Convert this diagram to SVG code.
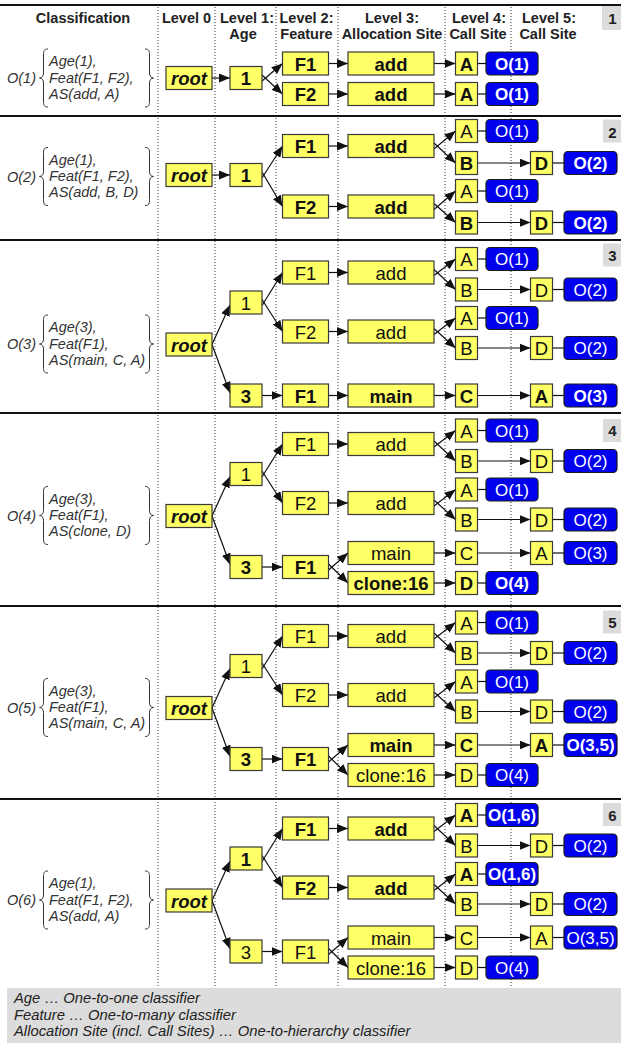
<svg xmlns="http://www.w3.org/2000/svg" width="621" height="1045" viewBox="0 0 621 1045">
<style>
.sep{stroke:#111;stroke-width:2}
.dot{stroke:#333;stroke-width:1;stroke-dasharray:1 2}
.n{fill:#ffff66;stroke:#3a3a3a;stroke-width:1.2}
.o{fill:#0000ee;stroke:#1a1a1a;stroke-width:1.2}
text{font-family:"Liberation Sans",Arial,sans-serif}
.t{font-size:18.5px;text-anchor:middle;fill:#111}
.ot{font-size:17px;text-anchor:middle;fill:#fff}
.b{font-weight:bold}
.i{font-style:italic}
.h{font-size:14.5px;font-weight:bold;text-anchor:middle;fill:#222}
.cl{font-size:14.5px;font-style:italic;fill:#333}
.ft{font-size:14.8px;font-style:italic;fill:#222}
.pn{font-size:15px;font-weight:bold;text-anchor:middle;fill:#222}
.pb{fill:#dcdcdc}
.c path{stroke:#111;stroke-width:1.2;fill:none}
.c .ar{marker-end:url(#ah)}
.br{fill:none;stroke:#333;stroke-width:1}
</style>
<defs>
<marker id="ah" viewBox="0 0 11 9" refX="11" refY="4.5" markerWidth="11" markerHeight="9" markerUnits="userSpaceOnUse" orient="auto"><path d="M0,0 L11,4.5 L0,9 z" fill="#111"/></marker>
<path id="lb" class="br" d="M48,-29 C44,-29 43.5,-27 43.5,-23 L43.5,-5 C43.5,-2 42,0 39.5,0 C42,0 43.5,2 43.5,5 L43.5,23 C43.5,27 44,29 48,29"/>
<path id="rb" class="br" d="M145,-29 C149,-29 149.5,-27 149.5,-23 L149.5,-5 C149.5,-2 151,0 153.5,0 C151,0 149.5,2 149.5,5 L149.5,23 C149.5,27 149,29 145,29"/>
</defs>
<rect width="621" height="1045" fill="#fff"/>

<g id="grid">
<line class="dot" x1="158" y1="7" x2="158" y2="988"/>
<line class="dot" x1="215" y1="7" x2="215" y2="988"/>
<line class="dot" x1="276" y1="7" x2="276" y2="988"/>
<line class="dot" x1="338" y1="7" x2="338" y2="988"/>
<line class="dot" x1="445" y1="7" x2="445" y2="988"/>
<line class="dot" x1="511" y1="7" x2="511" y2="988"/>
<line class="sep" x1="0" y1="5" x2="621" y2="5"/>
<line class="sep" x1="0" y1="116" x2="621" y2="116"/>
<line class="sep" x1="0" y1="240" x2="621" y2="240"/>
<line class="sep" x1="0" y1="413" x2="621" y2="413"/>
<line class="sep" x1="0" y1="606" x2="621" y2="606"/>
<line class="sep" x1="0" y1="799" x2="621" y2="799"/>
</g>

<g id="header">
<text class="h" x="83" y="22.5">Classification</text>
<text class="h" x="186.5" y="22.5">Level 0</text>
<text class="h" x="247" y="22.5">Level 1:</text>
<text class="h" x="306.5" y="22.5">Level 2:</text>
<text class="h" x="392" y="22.5">Level 3:</text>
<text class="h" x="479" y="22.5">Level 4:</text>
<text class="h" x="549" y="22.5">Level 5:</text>
<text class="h" x="243" y="38.5">Age</text>
<text class="h" x="306.5" y="38.5">Feature</text>
<text class="h" x="392" y="38.5">Allocation Site</text>
<text class="h" x="478" y="38.5">Call Site</text>
<text class="h" x="548" y="38.5">Call Site</text>
</g>

<g id="panel-numbers">
<rect class="pb" x="602" y="6" width="19" height="24"/><text class="pn" x="612.5" y="24">1</text>
<rect class="pb" x="603" y="119.5" width="18" height="23"/><text class="pn" x="612.5" y="137.5">2</text>
<rect class="pb" x="603" y="243.5" width="18" height="23"/><text class="pn" x="612.5" y="261">3</text>
<rect class="pb" x="603" y="419" width="18" height="23"/><text class="pn" x="612.5" y="436">4</text>
<rect class="pb" x="603" y="610.5" width="18" height="23"/><text class="pn" x="612.5" y="628">5</text>
<rect class="pb" x="603" y="803" width="18" height="23"/><text class="pn" x="612.5" y="821">6</text>
</g>

<!-- PANEL 1 -->
<g id="panel1">
<g id="p1-class"><use href="#lb" y="78"/><use href="#rb" y="78"/>
<text class="cl" x="7" y="83">O(1)</text><text class="cl" x="49" y="66">Age(1),</text><text class="cl" x="49" y="82.5">Feat(F1, F2),</text><text class="cl" x="49" y="98.5">AS(add, A)</text></g>
<g id="p1-connectors" class="c">
<path class="ar" d="M212,78 L230,78"/>
<path class="ar" d="M262,81 L282.5,63.5"/><path class="ar" d="M262,75 L282.5,94"/>
<path class="ar" d="M328.5,63.5 L348,63.5"/><path class="ar" d="M328.5,94 L348,94"/>
<path class="ar" d="M434,63.5 L455.5,63.5"/><path class="ar" d="M434,94 L455.5,94"/>
<path d="M477.5,63.5 L486,63.5"/><path d="M477.5,94 L486,94"/>
</g>
<g id="p1-root"><rect class="n" x="166" y="66.5" width="46" height="23"/><text class="t b i" x="189" y="85">root</text></g>
<g id="p1-age1"><rect class="n" x="230" y="66.5" width="32" height="23"/><text class="t b" x="246" y="85">1</text></g>
<g id="p1-f1"><rect class="n" x="282.5" y="52" width="46" height="23"/><text class="t b" x="305.5" y="70.5">F1</text></g>
<g id="p1-f2"><rect class="n" x="282.5" y="82.5" width="46" height="23"/><text class="t b" x="305.5" y="101">F2</text></g>
<g id="p1-add1"><rect class="n" x="348" y="52" width="86" height="23"/><text class="t b" x="391" y="70.5">add</text></g>
<g id="p1-add2"><rect class="n" x="348" y="82.5" width="86" height="23"/><text class="t b" x="391" y="101">add</text></g>
<g id="p1-a1"><rect class="n" x="455.5" y="52" width="22" height="23"/><text class="t b" x="466.5" y="70.5">A</text></g>
<g id="p1-a2"><rect class="n" x="455.5" y="82.5" width="22" height="23"/><text class="t b" x="466.5" y="101">A</text></g>
<g id="p1-o1a"><rect class="o" x="486" y="52" width="52" height="23" rx="4"/><text class="ot b" x="512" y="69.5">O(1)</text></g>
<g id="p1-o1b"><rect class="o" x="486" y="82.5" width="52" height="23" rx="4"/><text class="ot b" x="512" y="100">O(1)</text></g>
</g>

<!-- PANEL 2 -->
<g id="panel2">
<g id="p2-class"><use href="#lb" y="176.5"/><use href="#rb" y="176.5"/>
<text class="cl" x="7" y="181.5">O(2)</text><text class="cl" x="49" y="164.5">Age(1),</text><text class="cl" x="49" y="181">Feat(F1, F2),</text><text class="cl" x="49" y="197">AS(add, B, D)</text></g>
<g id="p2-connectors" class="c">
<path class="ar" d="M212,175 L230,175"/>
<path class="ar" d="M262,178 L282.5,146"/><path class="ar" d="M262,172 L282.5,206.5"/>
<path class="ar" d="M328.5,146 L348,146"/><path class="ar" d="M328.5,206.5 L348,206.5"/>
<path class="ar" d="M434,149 L455.5,131"/><path class="ar" d="M434,143 L455.5,163"/>
<path class="ar" d="M434,209.5 L455.5,191"/><path class="ar" d="M434,203.5 L455.5,222.5"/>
<path d="M477.5,131 L486,131"/><path d="M477.5,191 L486,191"/>
<path class="ar" d="M477.5,163 L530.5,163"/><path class="ar" d="M477.5,222.5 L530.5,222.5"/>
<path d="M552.5,163 L564,163"/><path d="M552.5,222.5 L564,222.5"/>
</g>
<g id="p2-root"><rect class="n" x="166" y="163.5" width="46" height="23"/><text class="t b i" x="189" y="182">root</text></g>
<g id="p2-age1"><rect class="n" x="230" y="163.5" width="32" height="23"/><text class="t b" x="246" y="182">1</text></g>
<g id="p2-f1"><rect class="n" x="282.5" y="134.5" width="46" height="23"/><text class="t b" x="305.5" y="153">F1</text></g>
<g id="p2-f2"><rect class="n" x="282.5" y="195" width="46" height="23"/><text class="t b" x="305.5" y="213.5">F2</text></g>
<g id="p2-add1"><rect class="n" x="348" y="134.5" width="86" height="23"/><text class="t b" x="391" y="153">add</text></g>
<g id="p2-add2"><rect class="n" x="348" y="195" width="86" height="23"/><text class="t b" x="391" y="213.5">add</text></g>
<g id="p2-a1"><rect class="n" x="455.5" y="119.5" width="22" height="23"/><text class="t" x="466.5" y="138">A</text></g>
<g id="p2-o1a"><rect class="o" x="486" y="119.5" width="52" height="23" rx="4"/><text class="ot" x="512" y="137">O(1)</text></g>
<g id="p2-b1"><rect class="n" x="455.5" y="151.5" width="22" height="23"/><text class="t b" x="466.5" y="170">B</text></g>
<g id="p2-d1"><rect class="n" x="530.5" y="151.5" width="22" height="23"/><text class="t b" x="541.5" y="170">D</text></g>
<g id="p2-o2a"><rect class="o" x="564" y="151.5" width="53" height="23" rx="4"/><text class="ot b" x="590.5" y="169">O(2)</text></g>
<g id="p2-a2"><rect class="n" x="455.5" y="179.5" width="22" height="23"/><text class="t" x="466.5" y="198">A</text></g>
<g id="p2-o1b"><rect class="o" x="486" y="179.5" width="52" height="23" rx="4"/><text class="ot" x="512" y="197">O(1)</text></g>
<g id="p2-b2"><rect class="n" x="455.5" y="211" width="22" height="23"/><text class="t b" x="466.5" y="229.5">B</text></g>
<g id="p2-d2"><rect class="n" x="530.5" y="211" width="22" height="23"/><text class="t b" x="541.5" y="229.5">D</text></g>
<g id="p2-o2b"><rect class="o" x="564" y="211" width="53" height="23" rx="4"/><text class="ot b" x="590.5" y="228.5">O(2)</text></g>
</g>

<!-- PANEL 3 -->
<g id="panel3" transform="translate(0,239.5)">
<g id="p3-class"><use href="#lb" y="104.5"/><use href="#rb" y="104.5"/>
<text class="cl" x="7" y="109.5">O(3)</text><text class="cl" x="49" y="92.5">Age(3),</text><text class="cl" x="49" y="109">Feat(F1),</text><text class="cl" x="49" y="125">AS(main, C, A)</text></g>
<g id="p3-connectors" class="c">
<path class="ar" d="M212,105 L230,65.5"/><path class="ar" d="M212,105 L230,153.5"/>
<path class="ar" d="M262,66 L282.5,33"/><path class="ar" d="M262,60 L282.5,92"/>
<path class="ar" d="M328.5,33 L348,33"/><path class="ar" d="M328.5,92 L348,92"/>
<path class="ar" d="M434,36 L455.5,19.5"/><path class="ar" d="M434,30 L455.5,50"/>
<path class="ar" d="M434,95 L455.5,78.5"/><path class="ar" d="M434,89 L455.5,108.5"/>
<path d="M477.5,19.5 L486,19.5"/><path d="M477.5,78.5 L486,78.5"/>
<path class="ar" d="M477.5,50 L530.5,50"/><path class="ar" d="M477.5,108.5 L530.5,108.5"/>
<path d="M552.5,50 L564,50"/><path d="M552.5,108.5 L564,108.5"/>
<path class="ar" d="M262,156 L282.5,156"/><path class="ar" d="M328.5,156 L348,156"/>
<path class="ar" d="M434,156 L455.5,156"/><path class="ar" d="M477.5,156 L530.5,156"/>
<path d="M552.5,156 L564,156"/>
</g>
<g id="p3-root"><rect class="n" x="166" y="93.5" width="46" height="23"/><text class="t b i" x="189" y="112">root</text></g>
<g id="p3-age1"><rect class="n" x="230" y="51.5" width="32" height="23"/><text class="t" x="246" y="70">1</text></g>
<g id="p3-age3"><rect class="n" x="230" y="144.5" width="32" height="23"/><text class="t b" x="246" y="163">3</text></g>
<g id="p3-f1"><rect class="n" x="282.5" y="21.5" width="46" height="23"/><text class="t" x="305.5" y="40">F1</text></g>
<g id="p3-f2"><rect class="n" x="282.5" y="80.5" width="46" height="23"/><text class="t" x="305.5" y="99">F2</text></g>
<g id="p3-f1b"><rect class="n" x="282.5" y="144.5" width="46" height="23"/><text class="t b" x="305.5" y="163">F1</text></g>
<g id="p3-add1"><rect class="n" x="348" y="21.5" width="86" height="23"/><text class="t" x="391" y="40">add</text></g>
<g id="p3-add2"><rect class="n" x="348" y="80.5" width="86" height="23"/><text class="t" x="391" y="99">add</text></g>
<g id="p3-main"><rect class="n" x="348" y="144.5" width="86" height="23"/><text class="t b" x="391" y="163">main</text></g>
<g id="p3-a1"><rect class="n" x="455.5" y="8" width="22" height="23"/><text class="t" x="466.5" y="26.5">A</text></g>
<g id="p3-o1a"><rect class="o" x="486" y="8" width="52" height="23" rx="4"/><text class="ot" x="512" y="25.5">O(1)</text></g>
<g id="p3-b1"><rect class="n" x="455.5" y="38.5" width="22" height="23"/><text class="t" x="466.5" y="57">B</text></g>
<g id="p3-d1"><rect class="n" x="530.5" y="38.5" width="22" height="23"/><text class="t" x="541.5" y="57">D</text></g>
<g id="p3-o2a"><rect class="o" x="564" y="38.5" width="53" height="23" rx="4"/><text class="ot" x="590.5" y="56">O(2)</text></g>
<g id="p3-a2"><rect class="n" x="455.5" y="67" width="22" height="23"/><text class="t" x="466.5" y="85.5">A</text></g>
<g id="p3-o1b"><rect class="o" x="486" y="67" width="52" height="23" rx="4"/><text class="ot" x="512" y="84.5">O(1)</text></g>
<g id="p3-b2"><rect class="n" x="455.5" y="97" width="22" height="23"/><text class="t" x="466.5" y="115.5">B</text></g>
<g id="p3-d2"><rect class="n" x="530.5" y="97" width="22" height="23"/><text class="t" x="541.5" y="115.5">D</text></g>
<g id="p3-o2b"><rect class="o" x="564" y="97" width="53" height="23" rx="4"/><text class="ot" x="590.5" y="114.5">O(2)</text></g>
<g id="p3-c"><rect class="n" x="455.5" y="144.5" width="22" height="23"/><text class="t b" x="466.5" y="163">C</text></g>
<g id="p3-a3"><rect class="n" x="530.5" y="144.5" width="22" height="23"/><text class="t b" x="541.5" y="163">A</text></g>
<g id="p3-o3"><rect class="o" x="564" y="144.5" width="53" height="23" rx="4"/><text class="ot b" x="590.5" y="162">O(3)</text></g>
</g>

<!-- PANEL 4 -->
<g id="panel4" transform="translate(0,411)">
<g id="p4-class"><use href="#lb" y="104.5"/><use href="#rb" y="104.5"/>
<text class="cl" x="7" y="109.5">O(4)</text><text class="cl" x="49" y="92.5">Age(3),</text><text class="cl" x="49" y="109">Feat(F1),</text><text class="cl" x="49" y="125">AS(clone, D)</text></g>
<g id="p4-connectors" class="c">
<path class="ar" d="M212,105 L230,65.5"/><path class="ar" d="M212,105 L230,153.5"/>
<path class="ar" d="M262,66 L282.5,33"/><path class="ar" d="M262,60 L282.5,92"/>
<path class="ar" d="M328.5,33 L348,33"/><path class="ar" d="M328.5,92 L348,92"/>
<path class="ar" d="M434,36 L455.5,19.5"/><path class="ar" d="M434,30 L455.5,50"/>
<path class="ar" d="M434,95 L455.5,78.5"/><path class="ar" d="M434,89 L455.5,108.5"/>
<path d="M477.5,19.5 L486,19.5"/><path d="M477.5,78.5 L486,78.5"/>
<path class="ar" d="M477.5,50 L530.5,50"/><path class="ar" d="M477.5,108.5 L530.5,108.5"/>
<path d="M552.5,50 L564,50"/><path d="M552.5,108.5 L564,108.5"/>
<path class="ar" d="M262,156 L282.5,156"/>
<path class="ar" d="M328.5,159 L348,142"/><path class="ar" d="M328.5,153 L348,172"/>
<path class="ar" d="M434,142 L455.5,142"/><path class="ar" d="M477.5,142 L530.5,142"/><path d="M552.5,142 L564,142"/>
<path class="ar" d="M434,172 L455.5,172"/><path d="M477.5,172 L486,172"/>
</g>
<g id="p4-root"><rect class="n" x="166" y="93.5" width="46" height="23"/><text class="t b i" x="189" y="112">root</text></g>
<g id="p4-age1"><rect class="n" x="230" y="51.5" width="32" height="23"/><text class="t" x="246" y="70">1</text></g>
<g id="p4-age3"><rect class="n" x="230" y="144.5" width="32" height="23"/><text class="t b" x="246" y="163">3</text></g>
<g id="p4-f1"><rect class="n" x="282.5" y="21.5" width="46" height="23"/><text class="t" x="305.5" y="40">F1</text></g>
<g id="p4-f2"><rect class="n" x="282.5" y="80.5" width="46" height="23"/><text class="t" x="305.5" y="99">F2</text></g>
<g id="p4-f1b"><rect class="n" x="282.5" y="144.5" width="46" height="23"/><text class="t b" x="305.5" y="163">F1</text></g>
<g id="p4-add1"><rect class="n" x="348" y="21.5" width="86" height="23"/><text class="t" x="391" y="40">add</text></g>
<g id="p4-add2"><rect class="n" x="348" y="80.5" width="86" height="23"/><text class="t" x="391" y="99">add</text></g>
<g id="p4-main"><rect class="n" x="348" y="130.5" width="86" height="23"/><text class="t" x="391" y="149">main</text></g>
<g id="p4-clone"><rect class="n" x="348" y="160.5" width="86" height="23"/><text class="t b" x="391" y="179">clone:16</text></g>
<g id="p4-a1"><rect class="n" x="455.5" y="8" width="22" height="23"/><text class="t" x="466.5" y="26.5">A</text></g>
<g id="p4-o1a"><rect class="o" x="486" y="8" width="52" height="23" rx="4"/><text class="ot" x="512" y="25.5">O(1)</text></g>
<g id="p4-b1"><rect class="n" x="455.5" y="38.5" width="22" height="23"/><text class="t" x="466.5" y="57">B</text></g>
<g id="p4-d1"><rect class="n" x="530.5" y="38.5" width="22" height="23"/><text class="t" x="541.5" y="57">D</text></g>
<g id="p4-o2a"><rect class="o" x="564" y="38.5" width="53" height="23" rx="4"/><text class="ot" x="590.5" y="56">O(2)</text></g>
<g id="p4-a2"><rect class="n" x="455.5" y="67" width="22" height="23"/><text class="t" x="466.5" y="85.5">A</text></g>
<g id="p4-o1b"><rect class="o" x="486" y="67" width="52" height="23" rx="4"/><text class="ot" x="512" y="84.5">O(1)</text></g>
<g id="p4-b2"><rect class="n" x="455.5" y="97" width="22" height="23"/><text class="t" x="466.5" y="115.5">B</text></g>
<g id="p4-d2"><rect class="n" x="530.5" y="97" width="22" height="23"/><text class="t" x="541.5" y="115.5">D</text></g>
<g id="p4-o2b"><rect class="o" x="564" y="97" width="53" height="23" rx="4"/><text class="ot" x="590.5" y="114.5">O(2)</text></g>
<g id="p4-c"><rect class="n" x="455.5" y="130.5" width="22" height="23"/><text class="t" x="466.5" y="149">C</text></g>
<g id="p4-a3"><rect class="n" x="530.5" y="130.5" width="22" height="23"/><text class="t" x="541.5" y="149">A</text></g>
<g id="p4-o3"><rect class="o" x="564" y="130.5" width="53" height="23" rx="4"/><text class="ot" x="590.5" y="148">O(3)</text></g>
<g id="p4-d3"><rect class="n" x="455.5" y="160.5" width="22" height="23"/><text class="t b" x="466.5" y="179">D</text></g>
<g id="p4-o4"><rect class="o" x="486" y="160.5" width="52" height="23" rx="4"/><text class="ot b" x="512" y="178">O(4)</text></g>
</g>

<!-- PANEL 5 -->
<g id="panel5" transform="translate(0,603)">
<g id="p5-class"><use href="#lb" y="104.5"/><use href="#rb" y="104.5"/>
<text class="cl" x="7" y="109.5">O(5)</text><text class="cl" x="49" y="92.5">Age(3),</text><text class="cl" x="49" y="109">Feat(F1),</text><text class="cl" x="49" y="125">AS(main, C, A)</text></g>
<g id="p5-connectors" class="c">
<path class="ar" d="M212,105 L230,65.5"/><path class="ar" d="M212,105 L230,153.5"/>
<path class="ar" d="M262,66 L282.5,33"/><path class="ar" d="M262,60 L282.5,92"/>
<path class="ar" d="M328.5,33 L348,33"/><path class="ar" d="M328.5,92 L348,92"/>
<path class="ar" d="M434,36 L455.5,19.5"/><path class="ar" d="M434,30 L455.5,50"/>
<path class="ar" d="M434,95 L455.5,78.5"/><path class="ar" d="M434,89 L455.5,108.5"/>
<path d="M477.5,19.5 L486,19.5"/><path d="M477.5,78.5 L486,78.5"/>
<path class="ar" d="M477.5,50 L530.5,50"/><path class="ar" d="M477.5,108.5 L530.5,108.5"/>
<path d="M552.5,50 L564,50"/><path d="M552.5,108.5 L564,108.5"/>
<path class="ar" d="M262,156 L282.5,156"/>
<path class="ar" d="M328.5,159 L348,142"/><path class="ar" d="M328.5,153 L348,172"/>
<path class="ar" d="M434,142 L455.5,142"/><path class="ar" d="M477.5,142 L530.5,142"/><path d="M552.5,142 L564,142"/>
<path class="ar" d="M434,172 L455.5,172"/><path d="M477.5,172 L486,172"/>
</g>
<g id="p5-root"><rect class="n" x="166" y="93.5" width="46" height="23"/><text class="t b i" x="189" y="112">root</text></g>
<g id="p5-age1"><rect class="n" x="230" y="51.5" width="32" height="23"/><text class="t" x="246" y="70">1</text></g>
<g id="p5-age3"><rect class="n" x="230" y="144.5" width="32" height="23"/><text class="t b" x="246" y="163">3</text></g>
<g id="p5-f1"><rect class="n" x="282.5" y="21.5" width="46" height="23"/><text class="t" x="305.5" y="40">F1</text></g>
<g id="p5-f2"><rect class="n" x="282.5" y="80.5" width="46" height="23"/><text class="t" x="305.5" y="99">F2</text></g>
<g id="p5-f1b"><rect class="n" x="282.5" y="144.5" width="46" height="23"/><text class="t b" x="305.5" y="163">F1</text></g>
<g id="p5-add1"><rect class="n" x="348" y="21.5" width="86" height="23"/><text class="t" x="391" y="40">add</text></g>
<g id="p5-add2"><rect class="n" x="348" y="80.5" width="86" height="23"/><text class="t" x="391" y="99">add</text></g>
<g id="p5-main"><rect class="n" x="348" y="130.5" width="86" height="23"/><text class="t b" x="391" y="149">main</text></g>
<g id="p5-clone"><rect class="n" x="348" y="160.5" width="86" height="23"/><text class="t" x="391" y="179">clone:16</text></g>
<g id="p5-a1"><rect class="n" x="455.5" y="8" width="22" height="23"/><text class="t" x="466.5" y="26.5">A</text></g>
<g id="p5-o1a"><rect class="o" x="486" y="8" width="52" height="23" rx="4"/><text class="ot" x="512" y="25.5">O(1)</text></g>
<g id="p5-b1"><rect class="n" x="455.5" y="38.5" width="22" height="23"/><text class="t" x="466.5" y="57">B</text></g>
<g id="p5-d1"><rect class="n" x="530.5" y="38.5" width="22" height="23"/><text class="t" x="541.5" y="57">D</text></g>
<g id="p5-o2a"><rect class="o" x="564" y="38.5" width="53" height="23" rx="4"/><text class="ot" x="590.5" y="56">O(2)</text></g>
<g id="p5-a2"><rect class="n" x="455.5" y="67" width="22" height="23"/><text class="t" x="466.5" y="85.5">A</text></g>
<g id="p5-o1b"><rect class="o" x="486" y="67" width="52" height="23" rx="4"/><text class="ot" x="512" y="84.5">O(1)</text></g>
<g id="p5-b2"><rect class="n" x="455.5" y="97" width="22" height="23"/><text class="t" x="466.5" y="115.5">B</text></g>
<g id="p5-d2"><rect class="n" x="530.5" y="97" width="22" height="23"/><text class="t" x="541.5" y="115.5">D</text></g>
<g id="p5-o2b"><rect class="o" x="564" y="97" width="53" height="23" rx="4"/><text class="ot" x="590.5" y="114.5">O(2)</text></g>
<g id="p5-c"><rect class="n" x="455.5" y="130.5" width="22" height="23"/><text class="t b" x="466.5" y="149">C</text></g>
<g id="p5-a3"><rect class="n" x="530.5" y="130.5" width="22" height="23"/><text class="t b" x="541.5" y="149">A</text></g>
<g id="p5-o3"><rect class="o" x="564" y="130.5" width="53" height="23" rx="4"/><text class="ot b" x="590.5" y="148">O(3,5)</text></g>
<g id="p5-d3"><rect class="n" x="455.5" y="160.5" width="22" height="23"/><text class="t" x="466.5" y="179">D</text></g>
<g id="p5-o4"><rect class="o" x="486" y="160.5" width="52" height="23" rx="4"/><text class="ot" x="512" y="178">O(4)</text></g>
</g>

<!-- PANEL 6 -->
<g id="panel6" transform="translate(0,795.5)">
<g id="p6-class"><use href="#lb" y="104.5"/><use href="#rb" y="104.5"/>
<text class="cl" x="7" y="109.5">O(6)</text><text class="cl" x="49" y="92.5">Age(1),</text><text class="cl" x="49" y="109">Feat(F1, F2),</text><text class="cl" x="49" y="125">AS(add, A)</text></g>
<g id="p6-connectors" class="c">
<path class="ar" d="M212,105 L230,65.5"/><path class="ar" d="M212,105 L230,153.5"/>
<path class="ar" d="M262,66 L282.5,33"/><path class="ar" d="M262,60 L282.5,92"/>
<path class="ar" d="M328.5,33 L348,33"/><path class="ar" d="M328.5,92 L348,92"/>
<path class="ar" d="M434,36 L455.5,19.5"/><path class="ar" d="M434,30 L455.5,50"/>
<path class="ar" d="M434,95 L455.5,78.5"/><path class="ar" d="M434,89 L455.5,108.5"/>
<path d="M477.5,19.5 L486,19.5"/><path d="M477.5,78.5 L486,78.5"/>
<path class="ar" d="M477.5,50 L530.5,50"/><path class="ar" d="M477.5,108.5 L530.5,108.5"/>
<path d="M552.5,50 L564,50"/><path d="M552.5,108.5 L564,108.5"/>
<path class="ar" d="M262,156 L282.5,156"/>
<path class="ar" d="M328.5,159 L348,142"/><path class="ar" d="M328.5,153 L348,172"/>
<path class="ar" d="M434,142 L455.5,142"/><path class="ar" d="M477.5,142 L530.5,142"/><path d="M552.5,142 L564,142"/>
<path class="ar" d="M434,172 L455.5,172"/><path d="M477.5,172 L486,172"/>
</g>
<g id="p6-root"><rect class="n" x="166" y="93.5" width="46" height="23"/><text class="t b i" x="189" y="112">root</text></g>
<g id="p6-age1"><rect class="n" x="230" y="51.5" width="32" height="23"/><text class="t b" x="246" y="70">1</text></g>
<g id="p6-age3"><rect class="n" x="230" y="144.5" width="32" height="23"/><text class="t" x="246" y="163">3</text></g>
<g id="p6-f1"><rect class="n" x="282.5" y="21.5" width="46" height="23"/><text class="t b" x="305.5" y="40">F1</text></g>
<g id="p6-f2"><rect class="n" x="282.5" y="80.5" width="46" height="23"/><text class="t b" x="305.5" y="99">F2</text></g>
<g id="p6-f1b"><rect class="n" x="282.5" y="144.5" width="46" height="23"/><text class="t" x="305.5" y="163">F1</text></g>
<g id="p6-add1"><rect class="n" x="348" y="21.5" width="86" height="23"/><text class="t b" x="391" y="40">add</text></g>
<g id="p6-add2"><rect class="n" x="348" y="80.5" width="86" height="23"/><text class="t b" x="391" y="99">add</text></g>
<g id="p6-main"><rect class="n" x="348" y="130.5" width="86" height="23"/><text class="t" x="391" y="149">main</text></g>
<g id="p6-clone"><rect class="n" x="348" y="160.5" width="86" height="23"/><text class="t" x="391" y="179">clone:16</text></g>
<g id="p6-a1"><rect class="n" x="455.5" y="8" width="22" height="23"/><text class="t b" x="466.5" y="26.5">A</text></g>
<g id="p6-o1a"><rect class="o" x="486" y="8" width="52" height="23" rx="4"/><text class="ot b" x="512" y="25.5">O(1,6)</text></g>
<g id="p6-b1"><rect class="n" x="455.5" y="38.5" width="22" height="23"/><text class="t" x="466.5" y="57">B</text></g>
<g id="p6-d1"><rect class="n" x="530.5" y="38.5" width="22" height="23"/><text class="t" x="541.5" y="57">D</text></g>
<g id="p6-o2a"><rect class="o" x="564" y="38.5" width="53" height="23" rx="4"/><text class="ot" x="590.5" y="56">O(2)</text></g>
<g id="p6-a2"><rect class="n" x="455.5" y="67" width="22" height="23"/><text class="t b" x="466.5" y="85.5">A</text></g>
<g id="p6-o1b"><rect class="o" x="486" y="67" width="52" height="23" rx="4"/><text class="ot b" x="512" y="84.5">O(1,6)</text></g>
<g id="p6-b2"><rect class="n" x="455.5" y="97" width="22" height="23"/><text class="t" x="466.5" y="115.5">B</text></g>
<g id="p6-d2"><rect class="n" x="530.5" y="97" width="22" height="23"/><text class="t" x="541.5" y="115.5">D</text></g>
<g id="p6-o2b"><rect class="o" x="564" y="97" width="53" height="23" rx="4"/><text class="ot" x="590.5" y="114.5">O(2)</text></g>
<g id="p6-c"><rect class="n" x="455.5" y="130.5" width="22" height="23"/><text class="t" x="466.5" y="149">C</text></g>
<g id="p6-a3"><rect class="n" x="530.5" y="130.5" width="22" height="23"/><text class="t" x="541.5" y="149">A</text></g>
<g id="p6-o3"><rect class="o" x="564" y="130.5" width="53" height="23" rx="4"/><text class="ot" x="590.5" y="148">O(3,5)</text></g>
<g id="p6-d3"><rect class="n" x="455.5" y="160.5" width="22" height="23"/><text class="t" x="466.5" y="179">D</text></g>
<g id="p6-o4"><rect class="o" x="486" y="160.5" width="52" height="23" rx="4"/><text class="ot" x="512" y="178">O(4)</text></g>
</g>

<g id="footer">
<rect class="pb" x="7" y="988" width="614" height="55"/>
<text class="ft" x="14" y="1003">Age … One-to-one classifier</text>
<text class="ft" x="14" y="1019.5">Feature … One-to-many classifier</text>
<text class="ft" x="14" y="1036">Allocation Site (incl. Call Sites) … One-to-hierarchy classifier</text>
</g>
</svg>
